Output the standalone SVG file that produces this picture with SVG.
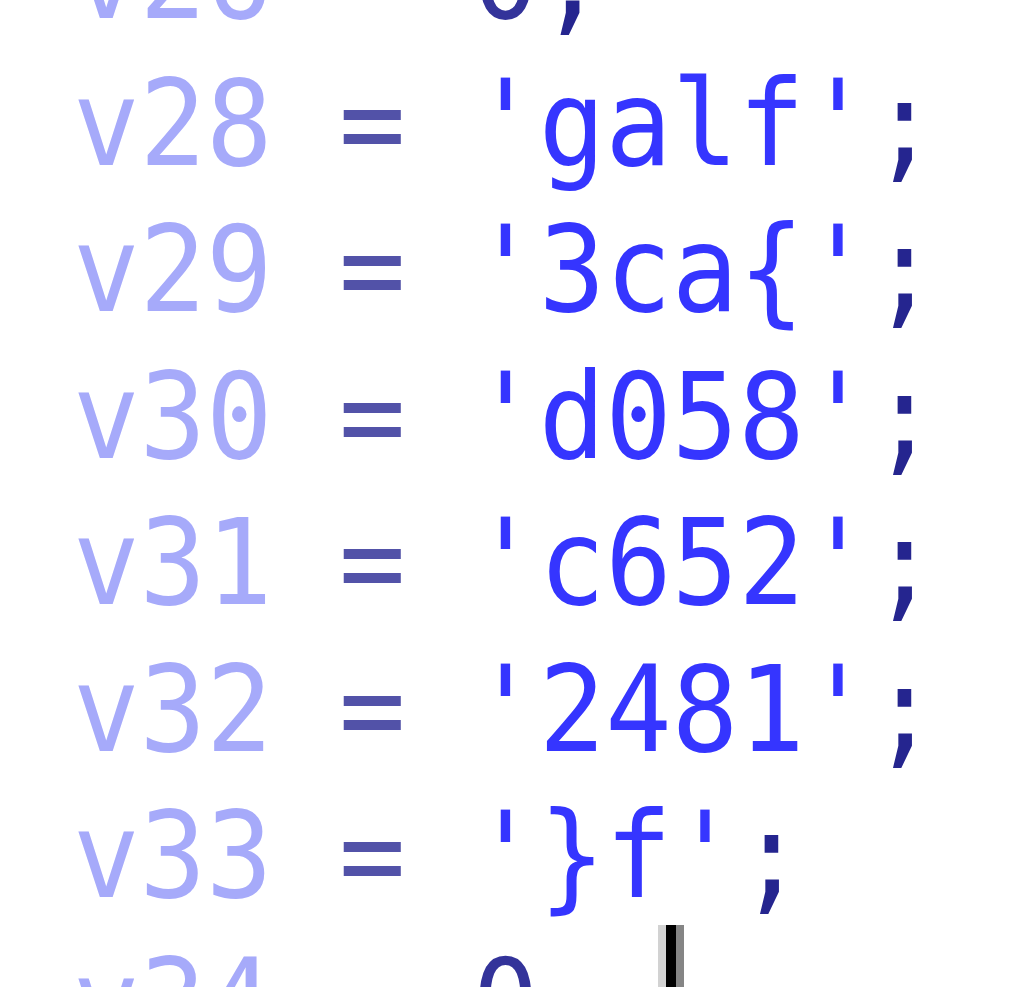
<svg xmlns="http://www.w3.org/2000/svg" width="1024" height="987" viewBox="0 0 1024 987">
<style>
text{font-family:"DejaVu Sans Mono","Liberation Mono",monospace;font-size:110.5px;white-space:pre}
.v{fill:#a6aafa}
.o{fill:#5252a8}
.s{fill:#3535ff}
.p{fill:#25258f}
.n{fill:#33339a}
</style>
<rect width="1024" height="987" fill="#ffffff"/>
<g id="code">
<text transform="translate(73,18) scale(1,1.08)" xml:space="preserve"><tspan class="v">v26</tspan> <tspan class="o">=</tspan> <tspan class="n">0</tspan><tspan class="p">;</tspan></text>
<text transform="translate(73,165) scale(1,1.08)" xml:space="preserve"><tspan class="v">v28</tspan> <tspan class="o">=</tspan> <tspan class="s">'galf'</tspan><tspan class="p">;</tspan></text>
<text transform="translate(73,311) scale(1,1.08)" xml:space="preserve"><tspan class="v">v29</tspan> <tspan class="o">=</tspan> <tspan class="s">'3ca{'</tspan><tspan class="p">;</tspan></text>
<text transform="translate(73,458) scale(1,1.08)" xml:space="preserve"><tspan class="v">v30</tspan> <tspan class="o">=</tspan> <tspan class="s">'d058'</tspan><tspan class="p">;</tspan></text>
<text transform="translate(73,604) scale(1,1.08)" xml:space="preserve"><tspan class="v">v31</tspan> <tspan class="o">=</tspan> <tspan class="s">'c652'</tspan><tspan class="p">;</tspan></text>
<text transform="translate(73,751) scale(1,1.08)" xml:space="preserve"><tspan class="v">v32</tspan> <tspan class="o">=</tspan> <tspan class="s">'2481'</tspan><tspan class="p">;</tspan></text>
<text transform="translate(73,897) scale(1,1.08)" xml:space="preserve"><tspan class="v">v33</tspan> <tspan class="o">=</tspan> <tspan class="s">'}f'</tspan><tspan class="p">;</tspan></text>
<text transform="translate(73,1044) scale(1,1.08)" xml:space="preserve"><tspan class="v">v34</tspan> <tspan class="o">=</tspan> <tspan class="n">0</tspan></text>
</g>
<g id="cursor">
<rect x="658" y="925" width="8" height="62" fill="#d2d2d2"/>
<rect x="666" y="925" width="10" height="62" fill="#000000"/>
<rect x="676" y="925" width="8" height="62" fill="#858585"/>
</g>
</svg>
